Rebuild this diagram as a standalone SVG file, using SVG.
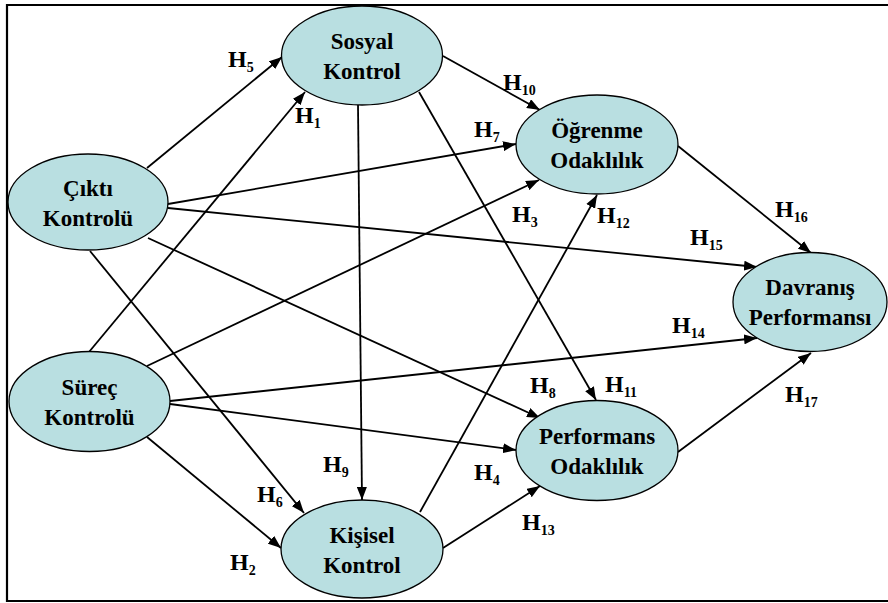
<svg xmlns="http://www.w3.org/2000/svg" width="888" height="603" viewBox="0 0 888 603">
<style>
.node ellipse{fill:#b9dfe1;stroke:#000;stroke-width:1.3}
.node text{font-family:'Liberation Serif',serif;font-weight:bold;font-size:23px;text-anchor:middle;fill:#000}
.lbl text{font-family:'Liberation Serif',serif;font-weight:bold;font-size:24px;fill:#000}
.lbl tspan{font-size:14px}
.edges line{stroke:#000;stroke-width:1.8;marker-end:url(#ah)}
</style>
<defs>
<marker id="ah" markerUnits="userSpaceOnUse" viewBox="0 0 13 10" refX="13" refY="5" markerWidth="13" markerHeight="10" orient="auto">
<path d="M0,0 L13,5 L0,10 z" fill="#000"/>
</marker>
</defs>
<rect width="888" height="603" fill="#fff"/>
<path d="M890,5 H7 V601 H890" fill="none" stroke="#000" stroke-width="2.2"/>
<g class="edges">
<line x1="147" y1="168" x2="282" y2="57"/>
<line x1="89" y1="352" x2="305" y2="92"/>
<line x1="168" y1="204" x2="516" y2="144"/>
<line x1="168" y1="208" x2="757" y2="267"/>
<line x1="148" y1="238" x2="540" y2="418"/>
<line x1="90" y1="251" x2="304" y2="513"/>
<line x1="147" y1="366" x2="539" y2="180"/>
<line x1="170" y1="401" x2="757" y2="338"/>
<line x1="170" y1="404" x2="516" y2="450"/>
<line x1="147" y1="437" x2="281" y2="548"/>
<line x1="443" y1="56" x2="540" y2="110"/>
<line x1="358" y1="105" x2="362" y2="500"/>
<line x1="419" y1="92" x2="596" y2="400"/>
<line x1="420" y1="512" x2="597" y2="195"/>
<line x1="443" y1="548" x2="540" y2="486"/>
<line x1="678" y1="146" x2="811" y2="253"/>
<line x1="678" y1="452" x2="811" y2="353"/>
</g>
<g id="sosyal" class="node"><ellipse cx="362" cy="55.5" rx="80.5" ry="49.5"/><text x="362" y="49">Sosyal</text><text x="362" y="79">Kontrol</text></g>
<g id="cikti" class="node"><ellipse cx="88" cy="202" rx="80" ry="48"/><text x="88" y="196">Çıktı</text><text x="88" y="226">Kontrolü</text></g>
<g id="surec" class="node"><ellipse cx="89.5" cy="401.5" rx="80.5" ry="50"/><text x="89.5" y="395">Süreç</text><text x="89.5" y="425">Kontrolü</text></g>
<g id="kisisel" class="node"><ellipse cx="362" cy="549" rx="81" ry="49"/><text x="362" y="543">Kişisel</text><text x="362" y="573">Kontrol</text></g>
<g id="ogrenme" class="node"><ellipse cx="597" cy="144.5" rx="81" ry="49.5"/><text x="597" y="138">Öğrenme</text><text x="597" y="168">Odaklılık</text></g>
<g id="performans" class="node"><ellipse cx="597" cy="450.5" rx="81" ry="50"/><text x="597" y="444">Performans</text><text x="597" y="474">Odaklılık</text></g>
<g id="davranis" class="node"><ellipse cx="810" cy="302" rx="77" ry="49.5"/><text x="810" y="295">Davranış</text><text x="810" y="325">Performansı</text></g>
<g class="lbl">
<text x="228" y="67">H<tspan dy="5">5</tspan></text>
<text x="295" y="123">H<tspan dy="5">1</tspan></text>
<text x="474" y="137">H<tspan dy="5">7</tspan></text>
<text x="503" y="90">H<tspan dy="5">10</tspan></text>
<text x="512" y="222">H<tspan dy="5">3</tspan></text>
<text x="597" y="223">H<tspan dy="5">12</tspan></text>
<text x="775" y="217">H<tspan dy="5">16</tspan></text>
<text x="690" y="245">H<tspan dy="5">15</tspan></text>
<text x="672" y="333">H<tspan dy="5">14</tspan></text>
<text x="530" y="393">H<tspan dy="5">8</tspan></text>
<text x="605" y="392">H<tspan dy="5">11</tspan></text>
<text x="785" y="402">H<tspan dy="5">17</tspan></text>
<text x="323" y="472">H<tspan dy="5">9</tspan></text>
<text x="474" y="480">H<tspan dy="5">4</tspan></text>
<text x="257" y="502">H<tspan dy="5">6</tspan></text>
<text x="522" y="530">H<tspan dy="5">13</tspan></text>
<text x="230" y="570">H<tspan dy="5">2</tspan></text>
</g>
</svg>
